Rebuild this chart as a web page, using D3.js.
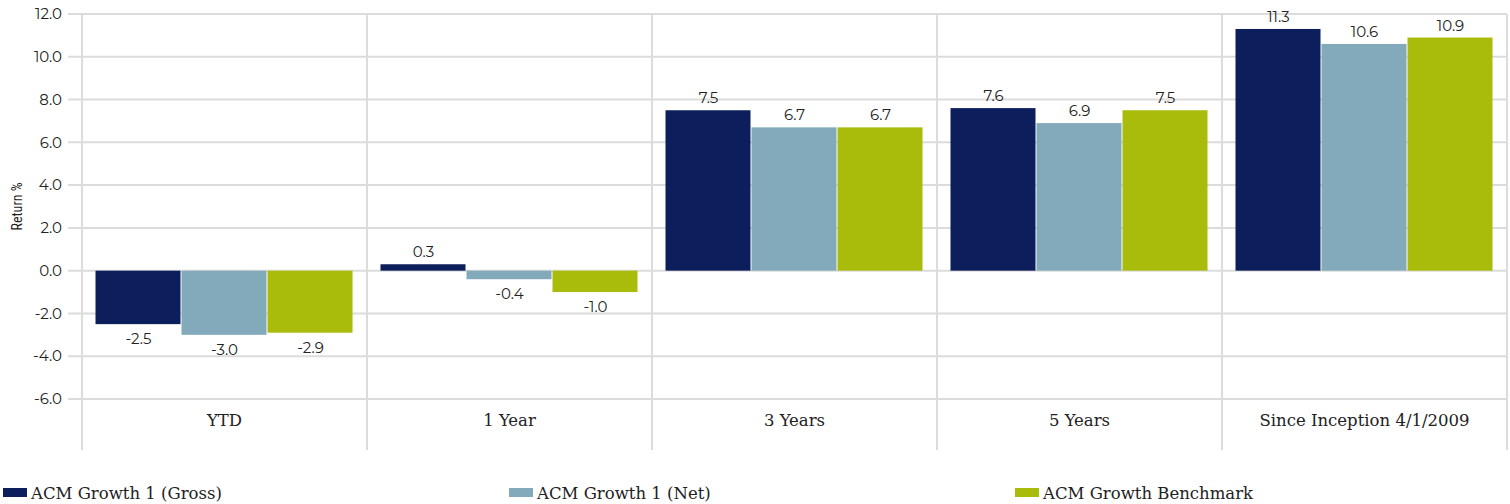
<!DOCTYPE html>
<html>
<head>
<meta charset="utf-8">
<script src="https://cdn.jsdelivr.net/npm/d3@7"></script>
<style>
  html, body { margin: 0; padding: 0; background: #fff; }
  #chart svg { display: block; }
</style>
</head>
<body>
<div id="chart"></div>
<script>
const CATEGORIES = ["YTD", "1 Year", "3 Years", "5 Years", "Since Inception 4/1/2009"];
const SERIES = ["ACM Growth 1 (Gross)", "ACM Growth 1 (Net)", "ACM Growth Benchmark"];
const GROSS = [-2.5, 0.3, 7.5, 7.6, 11.3];
const NET = [-3.0, -0.4, 6.7, 6.9, 10.6];
const BENCHMARK = [-2.9, -1.0, 6.7, 7.5, 10.9];
const Y_TICKS = [-6, -4, -2, 0, 2, 4, 6, 8, 10, 12];
const COLORS = ["#0c1f5c", "#82aabb", "#a9bb0b"];

const width = 1510;
const height = 504;
const margin = { left: 82, right: 3, top: 14, bottom: 105 };

const rows = CATEGORIES.map((cat, i) => ({
  cat,
  values: [GROSS[i], NET[i], BENCHMARK[i]],
}));

const svg = d3
  .select("#chart")
  .append("svg")
  .attr("width", width)
  .attr("height", height);

const x = d3
  .scaleBand()
  .domain(CATEGORIES)
  .range([margin.left, width - margin.right]);

const xInner = d3
  .scaleBand()
  .domain(SERIES)
  .range([13.5, x.bandwidth() - 13.5]);

const y = d3.scaleLinear().domain([-6, 12]).range([399, margin.top]);

const color = d3.scaleOrdinal().domain(SERIES).range(COLORS);
// plain hyphen for negatives, as in the source
const fmt = (v) => v.toFixed(1);

// horizontal grid
svg
  .append("g")
  .selectAll("line")
  .data(Y_TICKS)
  .join("line")
  .attr("x1", 68)
  .attr("x2", width - margin.right)
  .attr("y1", (d) => y(d))
  .attr("y2", (d) => y(d))
  .attr("stroke", "#dcdcdc")
  .attr("stroke-width", 2);

// vertical separators
const bounds = CATEGORIES.map((c) => x(c)).concat([x.range()[1]]);
svg
  .append("g")
  .selectAll("line")
  .data(bounds)
  .join("line")
  .attr("x1", (d) => d)
  .attr("x2", (d) => d)
  .attr("y1", margin.top)
  .attr("y2", 450)
  .attr("stroke", "#dcdcdc")
  .attr("stroke-width", 2);

// y tick labels
svg
  .append("g")
  .attr("font-family", "Montserrat, 'Noto Sans', sans-serif")
  .attr("font-size", 15)
  .attr("fill", "#222")
  .attr("text-anchor", "end")
  .selectAll("text")
  .data(Y_TICKS)
  .join("text")
  .attr("x", 62)
  .attr("y", (d) => y(d))
  .attr("dy", "0.35em")
  .text((d) => fmt(d));

svg
  .append("text")
  .attr("transform", `translate(22,${y(3)}) rotate(-90)`)
  .attr("text-anchor", "middle")
  .attr("font-family", "'Roboto Condensed', Roboto, sans-serif")
  .attr("font-size", 14)
  .attr("fill", "#222")
  .text("Return %");

// bars
const groups = svg
  .append("g")
  .selectAll("g")
  .data(rows)
  .join("g")
  .attr("transform", (d) => `translate(${x(d.cat)},0)`);

const cells = groups
  .selectAll("g")
  .data((d) => d.values.map((v, i) => ({ key: SERIES[i], value: v })))
  .join("g");

cells
  .append("rect")
  .attr("x", (d) => xInner(d.key))
  .attr("width", xInner.bandwidth() - 1)
  .attr("y", (d) => y(Math.max(0, d.value)))
  .attr("height", (d) => Math.abs(y(d.value) - y(0)))
  .attr("fill", (d) => color(d.key));

cells
  .append("text")
  .attr("x", (d) => xInner(d.key) + xInner.bandwidth() / 2)
  .attr("y", (d) => (d.value >= 0 ? y(d.value) - 7 : y(d.value) + 20))
  .attr("text-anchor", "middle")
  .attr("font-family", "Montserrat, 'Noto Sans', sans-serif")
  .attr("font-size", 15)
  .attr("fill", "#222")
  .text((d) => fmt(d.value));

// category labels
svg
  .append("g")
  .attr("font-family", "'DejaVu Serif', serif")
  .attr("font-size", 16.5)
  .attr("fill", "#222")
  .attr("text-anchor", "middle")
  .selectAll("text")
  .data(CATEGORIES)
  .join("text")
  .attr("x", (d) => x(d) + x.bandwidth() / 2)
  .attr("y", 426)
  .text((d) => d);

// legend
const legend = svg
  .append("g")
  .selectAll("g")
  .data(SERIES)
  .join("g")
  .attr("transform", (d, i) => `translate(${[3, 509, 1015][i]},488)`);

legend
  .append("rect")
  .attr("width", 24)
  .attr("height", 9)
  .attr("fill", color);

legend
  .append("text")
  .attr("x", 28)
  .attr("y", 5)
  .attr("dy", "0.35em")
  .attr("font-family", "'DejaVu Serif', serif")
  .attr("font-size", 16.5)
  .attr("fill", "#222")
  .text((d) => d);
</script>
</body>
</html>
